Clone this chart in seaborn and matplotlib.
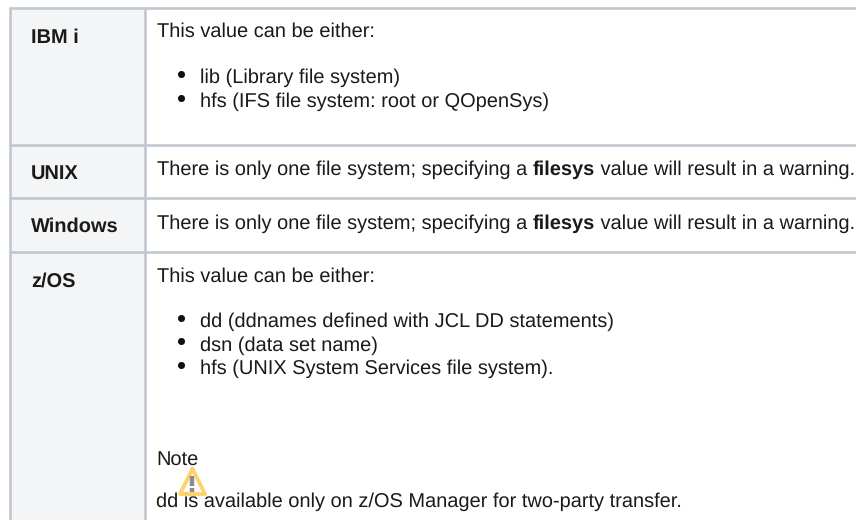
#table drawn with seaborn rules and real text
import pandas as pd
import matplotlib
matplotlib.use('Agg')
import matplotlib.pyplot as plt
import seaborn as sns

#row labels and cell text
platforms = ['IBM i', 'UNIX', 'Windows', 'z/OS']
intro_text = 'This value can be either:'
ibm_items = ['lib (Library file system)', 'hfs (IFS file system: root or QOpenSys)']
single_fs = ['There is only one file system; specifying a ', 'filesys', ' value will result in a warning.']
zos_items = ['dd (ddnames defined with JCL DD statements)', 'dsn (data set name)',
             'hfs (UNIX System Services file system).']
note_title = 'Note'
note_body = 'dd is available only on z/OS Manager for two-party transfer.'

#layout in pixels
W, H = 856, 520
LEFT, DIV = 10.5, 145
ROW_LINES = [8, 145, 198, 252]
FS = 14.36
BORDER = '#c1c7d0'
INK = '#1a1a1a'

sns.set_theme(style='white')
plt.rcParams['font.family'] = ['Liberation Sans', 'DejaVu Sans']
plt.rcParams['text.hinting'] = 'no_hinting'

fig = plt.figure(figsize=(W / 100, H / 100), dpi=100)
ax = fig.add_axes([0, 0, 1, 1])

#header column
ax.fill_between([LEFT, DIV], 8, H, color='#f4f5f7', lw=0, zorder=0)

#table rules
rules = []
for i, y in enumerate(ROW_LINES):
    rules += [{'rule': i, 'x': LEFT, 'y': y}, {'rule': i, 'x': W, 'y': y}]
for i, x in enumerate([LEFT, DIV]):
    rules += [{'rule': 10 + i, 'x': x, 'y': 8}, {'rule': 10 + i, 'x': x, 'y': H}]
df_rules = pd.DataFrame(rules)
sns.lineplot(data=df_rules, x='x', y='y', units='rule', estimator=None, sort=False,
             color=BORDER, linewidth=1.9, ax=ax, legend=False, zorder=1)

ax.set_xlim(0, W)
ax.set_ylim(H, 0)
ax.axis('off')

def put(x, y, s, weight='normal'):
    return ax.text(x, y, s, fontsize=FS, color=INK, weight=weight, va='baseline', ha='left', zorder=3)

#row labels
for label, y in zip(platforms, [43, 179, 232, 287]):
    put(31, y, label, 'bold')

#first lines of the cells
put(157, 37, intro_text)
put(157, 281.5, intro_text)

#sentence with a bold word
fig.canvas.draw()
renderer = fig.canvas.get_renderer()
for y in [175, 228.5]:
    x = 157
    for part, weight in zip(single_fs, ['normal', 'bold', 'normal']):
        t = put(x, y, part, weight)
        # trailing spaces are part of the extent in agg
        x0, x1 = ax.transData.inverted().transform(t.get_window_extent(renderer))[:, 0]
        x = x + (x1 - x0)

#bullets
for items, ys in [(ibm_items, [83, 107]), (zos_items, [327, 350.5, 374])]:
    df_b = pd.DataFrame({'x': [181] * len(ys), 'y': [v - 9.5 for v in ys]})
    sns.scatterplot(data=df_b, x='x', y='y', s=26, color='#111111', linewidth=0, ax=ax, zorder=3)
    for s, y in zip(items, ys):
        put(200, y, s)
ax.set_xlim(0, W)
ax.set_ylim(H, 0)
ax.axis('off')

#note and warning icon
put(156.5, 465, note_title)
put(156.5, 507, note_body)
ax.plot([192.5, 180, 205, 192.5], [469, 494, 494, 469], color='#fdcf5c', lw=2.8, alpha=0.9,
        solid_joinstyle='round', zorder=4)
ax.plot([192.5, 192.5], [476, 486], color='#8c8c8c', lw=3.2, zorder=4, solid_capstyle='butt')
ax.plot([192.5, 192.5], [488, 492], color='#8c8c8c', lw=3.2, zorder=4, solid_capstyle='butt')

fig.savefig('out.png', dpi=100)
